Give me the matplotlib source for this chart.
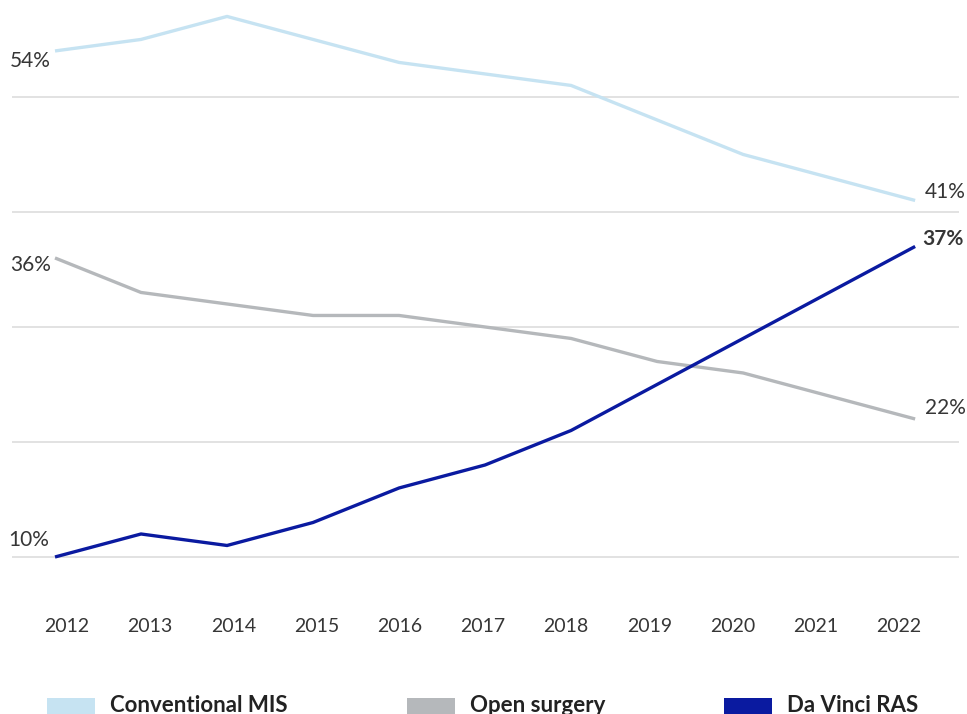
import matplotlib.pyplot as plt
from matplotlib.patches import Rectangle

# Share of procedures by approach, 2012-2022 (%)
years = [2012, 2013, 2014, 2015, 2016, 2017, 2018, 2019, 2020, 2021, 2022]
conventional_mis = [54, 55, 57, 55, 53, 52, 51, 48, 45, 43, 41]
open_surgery = [36, 33, 32, 31, 31, 30, 29, 27, 26, 24, 22]
da_vinci_ras = [10, 12, 11, 13, 16, 18, 21, 25, 29, 33, 37]

series_names = ["Conventional MIS", "Open surgery", "Da Vinci RAS"]
series_colors = ["#c6e3f2", "#b5b8bb", "#0a1aa0"]
grid_levels = [10, 20, 30, 40, 50]

text_color = "#363636"
plt.rcParams['font.family'] = ['Lato', 'DejaVu Sans']

W, H = 967, 714
fig = plt.figure(figsize=(W / 100, H / 100), dpi=100)

# Axes placed in pixel terms
left_px, right_px, top_px, bottom_px = 12, 959, 0, 600
rect = [left_px / W, 1 - bottom_px / H, (right_px - left_px) / W, (bottom_px - top_px) / H]
ax = fig.add_axes(rect)
ax.set_xlim(2011.5, 2022.51)
ax.set_ylim(6.26, 58.43)

for g in grid_levels:
    ax.axhline(g, color="#dddddd", lw=1.2, zorder=0)

all_series = [conventional_mis, open_surgery, da_vinci_ras]
for vals, name, col in zip(all_series, series_names, series_colors):
    ax.plot(years, vals, color=col, lw=2.4, label=name, solid_capstyle='butt',
            solid_joinstyle='miter', clip_on=False, zorder=3)

# Start / end value labels
lab = dict(fontsize=15, color=text_color)
ax.annotate(f"{conventional_mis[0]}%", (years[0], conventional_mis[0]),
            xytext=(-4, -10), textcoords='offset pixels', ha='right', va='center', **lab)
ax.annotate(f"{open_surgery[0]}%", (years[0], open_surgery[0]),
            xytext=(-4, -7), textcoords='offset pixels', ha='right', va='center', **lab)
ax.annotate(f"{da_vinci_ras[0]}%", (years[0], da_vinci_ras[0]),
            xytext=(-6, 17), textcoords='offset pixels', ha='right', va='center', **lab)
ax.annotate(f"{conventional_mis[-1]}%", (years[-1], conventional_mis[-1]),
            xytext=(10, 8), textcoords='offset pixels', ha='left', va='center', **lab)
ax.annotate(f"{open_surgery[-1]}%", (years[-1], open_surgery[-1]),
            xytext=(10, 11), textcoords='offset pixels', ha='left', va='center', **lab)
ax.annotate(f"{da_vinci_ras[-1]}%", (years[-1], da_vinci_ras[-1]),
            xytext=(7, 7), textcoords='offset pixels', ha='left', va='center',
            fontweight='bold', fontsize=15, color=text_color)

ax.set_xticks([])
ax.set_yticks([])
for s in ax.spines.values():
    s.set_visible(False)
ax.patch.set_alpha(0)

# Year labels sit on their own slightly narrower scale, as in the source chart
ax_years = fig.add_axes(rect)
ax_years.set_xlim(2011.339, 2022.721)
ax_years.set_xticks(years)
ax_years.set_xticklabels([str(y) for y in years], fontsize=14, color=text_color)
ax_years.tick_params(axis='x', length=0, pad=13)
ax_years.set_yticks([])
for s in ax_years.spines.values():
    s.set_visible(False)
ax_years.patch.set_alpha(0)

# Legend along the bottom edge
legend_x = [47, 407, 724]
for x0, name, col in zip(legend_x, series_names, series_colors):
    fig.patches.append(Rectangle((x0 / W, 0), 48 / W, 16 / H, transform=fig.transFigure,
                                 color=col, lw=0))
    fig.text((x0 + 63) / W, 8 / H, name, fontsize=16, fontweight='bold',
             color="#222222", ha='left', va='center')

fig.savefig("out.png", dpi=100)
